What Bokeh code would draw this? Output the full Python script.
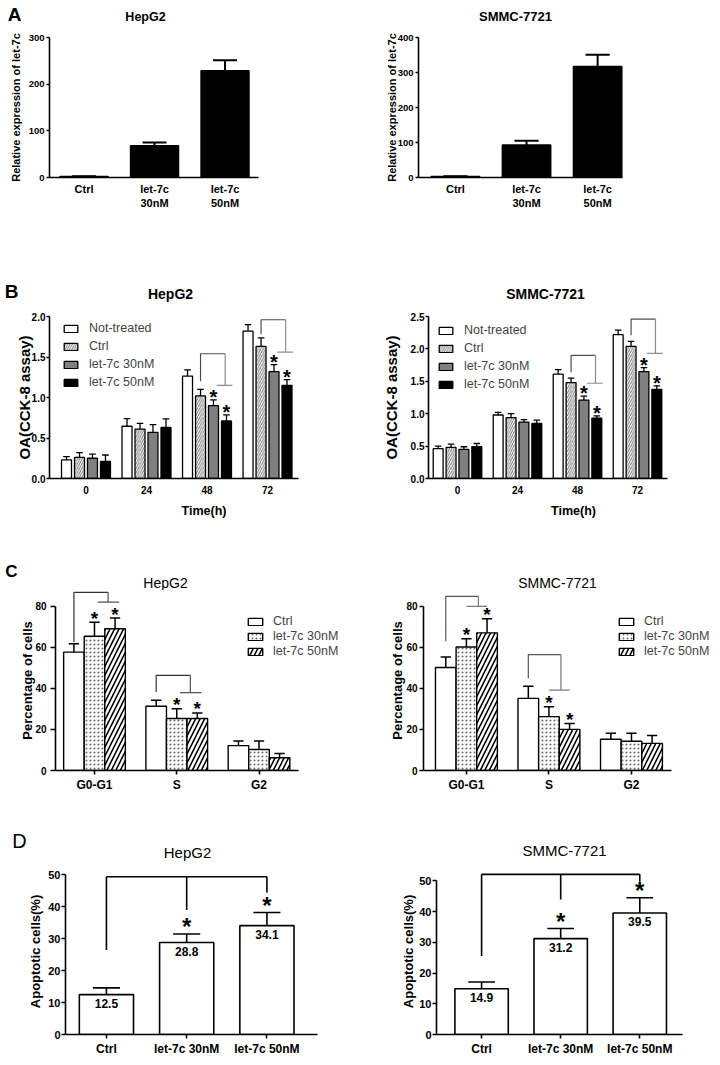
import numpy as np
from bokeh.plotting import figure
from bokeh.models import Range1d, FixedTicker, Label, Legend, LegendItem, CustomJSTickFormatter
from bokeh.layouts import column, row
from bokeh.embed import file_html
from bokeh.resources import INLINE
from bokeh.core.properties import value

FONT = "Liberation Sans"

# ---------------- data ----------------
# Panel A: relative expression of let-7c
a_cats = ["Ctrl", "let-7c\n30nM", "let-7c\n50nM"]
a_hep_mean = [2, 68, 229]
a_hep_err = [0.6, 7, 22]
a_smmc_mean = [3, 93, 317]
a_smmc_err = [0.6, 12, 34]

# Panel B: CCK-8 assay
b_times = ["0", "24", "48", "72"]
b_series = ["Not-treated", "Ctrl", "let-7c 30nM", "let-7c 50nM"]
b_hep_nt = [0.23, 0.645, 1.265, 1.82]
b_hep_ctrl = [0.26, 0.61, 1.02, 1.63]
b_hep_30 = [0.25, 0.57, 0.90, 1.32]
b_hep_50 = [0.21, 0.63, 0.71, 1.15]
b_hep_nt_err = [0.04, 0.095, 0.075, 0.08]
b_hep_ctrl_err = [0.06, 0.07, 0.08, 0.105]
b_hep_30_err = [0.05, 0.095, 0.07, 0.085]
b_hep_50_err = [0.08, 0.105, 0.075, 0.07]
b_smmc_nt = [0.46, 0.98, 1.61, 2.22]
b_smmc_ctrl = [0.48, 0.94, 1.48, 2.04]
b_smmc_30 = [0.45, 0.87, 1.21, 1.65]
b_smmc_50 = [0.49, 0.85, 0.93, 1.375]
b_smmc_nt_err = [0.04, 0.04, 0.07, 0.07]
b_smmc_ctrl_err = [0.05, 0.06, 0.07, 0.075]
b_smmc_30_err = [0.04, 0.04, 0.06, 0.06]
b_smmc_50_err = [0.05, 0.05, 0.035, 0.055]
b_sig = [[0, 0, 0, 0], [0, 0, 0, 0], [0, 0, 1, 1], [0, 0, 1, 1]]
# brackets: (group index, start y, top y, end y)
b_hep_brackets = [(2, 1.20, 1.54, 1.15), (3, 1.78, 1.96, 1.56)]
b_smmc_brackets = [(2, 1.64, 1.90, 1.47), (3, 2.21, 2.46, 1.93)]

# Panel C: cell cycle
c_phases = ["G0-G1", "S", "G2"]
c_series = ["Ctrl", "let-7c 30nM", "let-7c 50nM"]
c_hep_ctrl = [57.6, 31.3, 12.1]
c_hep_30 = [65.3, 25.3, 10.2]
c_hep_50 = [69.0, 25.3, 6.2]
c_hep_ctrl_err = [4.1, 2.9, 2.2]
c_hep_30_err = [6.9, 4.8, 4.1]
c_hep_50_err = [5.2, 2.7, 2.1]
c_smmc_ctrl = [50.1, 35.1, 15.2]
c_smmc_30 = [60.1, 26.2, 14.2]
c_smmc_50 = [67.0, 20.0, 13.2]
c_smmc_ctrl_err = [5.1, 5.9, 2.9]
c_smmc_30_err = [4.0, 4.8, 3.9]
c_smmc_50_err = [6.8, 2.9, 3.8]
c_sig = [[0, 0, 0], [1, 1, 0], [1, 1, 0]]
c_hep_brackets = [(0, 62.5, 86.7, 81.9), (1, 38.2, 46.3, 37.9)]
c_smmc_brackets = [(0, 62.9, 84.7, 79.9), (1, 44.8, 56.4, 39.1)]

# Panel D: apoptosis
d_cats = ["Ctrl", "let-7c 30nM", "let-7c 50nM"]
d_hep_mean = [12.5, 28.8, 34.1]
d_hep_err = [2.1, 2.7, 4.1]
d_smmc_mean = [14.9, 31.2, 39.5]
d_smmc_err = [2.2, 3.3, 5.0]
d_sig = [0, 1, 1]
d_hep_bracket = (49.4, [26.5, 39.0, 44.5])
d_smmc_bracket = (52.1, [25.5, 43.9, 49.7])

# header texts: (text, page x, page y, size, bold)
hdr_a = [("A", 14, 14, 19, True), ("HepG2", 145, 16, 12.5, True), ("SMMC-7721", 515, 16, 13, True)]
hdr_b = [("B", 11, 291, 19, True), ("HepG2", 170, 293, 14, True), ("SMMC-7721", 545, 293, 14, True)]
hdr_c = [("C", 11, 571, 17, True), ("HepG2", 165, 582, 14, False), ("SMMC-7721", 557, 582, 14, False)]
hdr_d = [("D", 19, 840, 20, False), ("HepG2", 187, 852, 15, False), ("SMMC-7721", 564, 850, 15, False)]

# ---------------- layout geometry (page pixels) ----------------
# header strips: (top, height)
H_A, H_B, H_C, H_D = (0, 30), (276, 32), (556, 34), (816, 46)
G = dict(
    a_hep=dict(col=0, top=30, h=246, fl=49, fr=258, ft=37, fb=177, xr=(-0.49, 2.475), yr=(0, 300)),
    a_smmc=dict(col=1, top=30, h=246, fl=418, fr=622, ft=37, fb=177, xr=(-0.52, 2.35), yr=(0, 400)),
    b_hep=dict(col=0, top=308, h=248, fl=49, fr=298, ft=316, fb=478, xr=(-0.603, 3.512), yr=(0, 2.0)),
    b_smmc=dict(col=1, top=308, h=248, fl=428, fr=667, ft=316, fb=478, xr=(-0.483, 3.5), yr=(0, 2.5)),
    c_hep=dict(col=0, top=590, h=226, fl=55, fr=298, ft=590, fb=770, xr=(-0.474, 2.48), yr=(0, 87.6)),
    c_smmc=dict(col=1, top=590, h=226, fl=423, fr=671, ft=590, fb=771, xr=(-0.52, 2.485), yr=(0, 87.6)),
    d_hep=dict(col=0, top=862, h=198, fl=65, fr=317, ft=868, fb=1034, xr=(-0.51, 2.63), yr=(0, 52)),
    d_smmc=dict(col=1, top=862, h=198, fl=436, fr=682, ft=865, fb=1036, xr=(-0.57, 2.54), yr=(0, 54)),
)


def make_header(top_h, texts):
    top, h = top_h
    p = figure(width=720, height=h, x_range=Range1d(0, 720), y_range=Range1d(0, h),
               x_axis_type=None, y_axis_type=None, min_border=0,
               output_backend="svg", toolbar_location=None, tools="", title=None)
    p.outline_line_color = None
    p.xgrid.visible = False
    p.ygrid.visible = False
    for t, px, py, size, bold in texts:
        p.add_layout(Label(x=px, y=top + h - py, text=t, text_font=FONT, text_font_size=f"{size}px",
                           text_font_style="bold" if bold else "normal", text_color="black",
                           text_align="center", text_baseline="middle"))
    return p


def make_fig(g):
    fig_left = 0 if g["col"] == 0 else 360
    xs, xe = g["xr"]
    fr_ext = fig_left + 358
    xe_ext = xs + (fr_ext - g["fl"]) * (xe - xs) / (g["fr"] - g["fl"])
    p = figure(width=360, height=g["h"],
               x_range=Range1d(xs, xe_ext), y_range=Range1d(*g["yr"]),
               min_border_left=g["fl"] - fig_left,
               min_border_right=fig_left + 360 - fr_ext,
               min_border_top=g["ft"] - g["top"],
               min_border_bottom=g["top"] + g["h"] - g["fb"],
               output_backend="svg", toolbar_location=None, tools="", title=None)
    p.outline_line_color = None
    p.xgrid.visible = False
    p.ygrid.visible = False
    p.xaxis.bounds = (xs, xe)
    for ax in (p.xaxis[0], p.yaxis[0]):
        ax.axis_line_width = 1.6
        ax.axis_line_color = "black"
        ax.major_tick_line_width = 1.6
        ax.major_tick_line_color = "black"
        ax.major_tick_in = 0
        ax.minor_tick_line_color = None
        ax.major_label_text_font = FONT
        ax.major_label_text_font_style = "bold"
        ax.major_label_text_color = "black"
        ax.axis_label_text_font = FONT
        ax.axis_label_text_font_style = "bold"
        ax.axis_label_text_color = "black"
    return p


def px_to_units(g):
    return (g["yr"][1] - g["yr"][0]) / (g["fb"] - g["ft"])


def setup_axes(p, yticks, xlabels, ytick_size, xtick_size, ylabel, ylabel_size,
               tick_out, y_standoff, ylabel_standoff, x_tick_out, x_standoff):
    p.yaxis.ticker = FixedTicker(ticks=yticks)
    p.yaxis.bounds = (yticks[0], yticks[-1])
    p.yaxis.major_tick_out = tick_out
    p.yaxis.major_label_standoff = y_standoff
    p.yaxis.major_label_text_font_size = f"{ytick_size}px"
    p.yaxis.axis_label = ylabel
    p.yaxis.axis_label_text_font_size = f"{ylabel_size}px"
    p.yaxis.axis_label_standoff = ylabel_standoff
    p.xaxis.ticker = FixedTicker(ticks=list(range(len(xlabels))))
    p.xaxis.major_label_overrides = {i: lab for i, lab in enumerate(xlabels)}
    p.xaxis.major_label_text_font_size = f"{xtick_size}px"
    p.xaxis.major_tick_out = x_tick_out
    p.xaxis.major_label_standoff = x_standoff


def err_bars(p, x, m, e, cw, lw=1.5):
    x = np.asarray(x, dtype=float)
    top = np.asarray(m, dtype=float) + np.asarray(e, dtype=float)
    p.segment(x0=x, y0=m, x1=x, y1=top, line_color="black", line_width=lw)
    p.segment(x0=x - cw, y0=top, x1=x + cw, y1=top, line_color="black", line_width=lw)
    return top


def stars(p, g, x, y, mask, size, lift_px):
    du = px_to_units(g) * lift_px
    xs = [xi for xi, s in zip(x, mask) if s]
    ys = [yi + du for yi, s in zip(y, mask) if s]
    if xs:
        p.text(x=xs, y=ys, text=["*"] * len(xs), text_font=value(FONT),
               text_font_size=f"{size}px", text_font_style="bold", text_color="black",
               text_align="center", text_baseline="middle")


def bracket(p, xl, xd, xa, xb, y0, ytop, yend, c_left, c_right, lw=1.2):
    p.line(x=[xl, xl, xd], y=[y0, ytop, ytop], line_color=c_left, line_width=lw)
    p.line(x=[xd, xd], y=[ytop, yend], line_color=c_right, line_width=lw)
    p.line(x=[xa, xb], y=[yend, yend], line_color=c_right, line_width=lw)


# ---------------- Panel A ----------------
def panel_a(g, mean, err, yticks, ylabel_standoff):
    p = make_fig(g)
    setup_axes(p, yticks, a_cats, 9.5, 11, "Relative expression of let-7c", 11,
               3, 2, ylabel_standoff, 0, 5)
    x = np.arange(len(a_cats))
    bw = 0.68
    p.vbar(x=x, top=mean, width=bw, bottom=0, fill_color="black", line_color="black", line_width=1.5)
    err_bars(p, x, mean, err, bw / 4, lw=2)
    return p


pa1 = panel_a(G["a_hep"], a_hep_mean, a_hep_err, [0, 100, 200, 300], 4)
pa2 = panel_a(G["a_smmc"], a_smmc_mean, a_smmc_err, [0, 100, 200, 300, 400], -3)

# ---------------- Panel B ----------------
B_STYLES = [
    dict(fill_color="white"),
    dict(fill_color="white", hatch_pattern="/", hatch_color="#7a7a7a", hatch_scale=4.5, hatch_weight=1),
    dict(fill_color="#808080"),
    dict(fill_color="black"),
]


def panel_b(g, means, errs, brackets, yticks, ylabel_standoff, leg_loc):
    p = make_fig(g)
    setup_axes(p, yticks, b_times, 10, 10, "OA(CCK-8 assay)", 15, 3, 1, ylabel_standoff, 0, 7)
    p.yaxis.formatter = CustomJSTickFormatter(code="return tick.toFixed(1);")
    p.xaxis.axis_label = "Time(h)"
    p.xaxis.axis_label_text_font_size = "12.5px"
    p.xaxis.axis_label_standoff = 7
    offs = [-0.322, -0.107, 0.107, 0.322]
    bw = 0.165
    rs = []
    for i in range(4):
        x = np.arange(len(b_times)) + offs[i]
        r = p.vbar(x=x, top=means[i], width=bw, bottom=0, line_color="black", line_width=1.3,
                   **B_STYLES[i])
        rs.append(r)
        top = err_bars(p, x, means[i], errs[i], bw / 3, lw=1.3)
        stars(p, g, x, top, b_sig[i], 20, 3)
    for gi, y0, ytop, yend in brackets:
        bracket(p, gi + offs[1], gi + 0.30, gi + 0.16, gi + 0.42, y0, ytop, yend, "#4d4d4d", "#8c8c8c")
    leg = Legend(items=[LegendItem(label=s, renderers=[r]) for s, r in zip(b_series, rs)],
                 location=leg_loc, orientation="vertical", glyph_width=17, glyph_height=9,
                 label_standoff=10, label_height=14, label_text_font=FONT, label_text_font_size="12.5px",
                 spacing=4, padding=0, margin=0, border_line_color=None, background_fill_alpha=0)
    p.add_layout(leg)
    return p


pb1 = panel_b(G["b_hep"], [b_hep_nt, b_hep_ctrl, b_hep_30, b_hep_50],
              [b_hep_nt_err, b_hep_ctrl_err, b_hep_30_err, b_hep_50_err],
              b_hep_brackets, [0, 0.5, 1.0, 1.5, 2.0], -4, (13, 89))
pb2 = panel_b(G["b_smmc"], [b_smmc_nt, b_smmc_ctrl, b_smmc_30, b_smmc_50],
              [b_smmc_nt_err, b_smmc_ctrl_err, b_smmc_30_err, b_smmc_50_err],
              b_smmc_brackets, [0, 0.5, 1.0, 1.5, 2.0, 2.5], 8, (9, 87))

# ---------------- Panel C ----------------
C_STYLES = [
    dict(fill_color="white"),
    dict(fill_color="white", hatch_pattern=".", hatch_color="#6a6a6a", hatch_scale=4, hatch_weight=1),
    dict(fill_color="white", hatch_pattern="/", hatch_color="black", hatch_scale=9, hatch_weight=1.6),
]


def panel_c(g, means, errs, brackets, tick_out, y_standoff, ylabel_standoff,
            leg_loc, drop, low, c_left, c_right):
    p = make_fig(g)
    setup_axes(p, [0, 20, 40, 60, 80], c_phases, 10, 12, "Percentage of cells", 13,
               tick_out, y_standoff, ylabel_standoff, 4, 3)
    offs = [-0.25, 0.0, 0.25]
    bw = 0.25
    rs = []
    for i in range(3):
        x = np.arange(len(c_phases)) + offs[i]
        r = p.vbar(x=x, top=means[i], width=bw, bottom=0, line_color="black", line_width=1.4,
                   **C_STYLES[i])
        rs.append(r)
        top = err_bars(p, x, means[i], errs[i], bw / 4, lw=1.5)
        stars(p, g, x, top, c_sig[i], 19, 4)
    for gi, y0, ytop, yend in brackets:
        bracket(p, gi + offs[0], gi + drop, gi + low[0], gi + low[1], y0, ytop, yend, c_left, c_right)
    leg = Legend(items=[LegendItem(label=s, renderers=[r]) for s, r in zip(c_series, rs)],
                 location=leg_loc, orientation="vertical", glyph_width=18, glyph_height=9,
                 label_standoff=9, label_height=13, label_text_font=FONT, label_text_font_size="12.5px",
                 spacing=1, padding=0, margin=0, border_line_color=None, background_fill_alpha=0)
    p.add_layout(leg)
    return p


pc1 = panel_c(G["c_hep"], [c_hep_ctrl, c_hep_30, c_hep_50],
              [c_hep_ctrl_err, c_hep_30_err, c_hep_50_err], c_hep_brackets,
              5, 4, -3, (191, 112), 0.165, (0.04, 0.30), "#333333", "#555555")
pc2 = panel_c(G["c_smmc"], [c_smmc_ctrl, c_smmc_30, c_smmc_50],
              [c_smmc_ctrl_err, c_smmc_30_err, c_smmc_50_err], c_smmc_brackets,
              4, 2, -2, (194, 112), 0.145, (0.0, 0.25), "#555555", "#7a7a7a")


# ---------------- Panel D ----------------
def panel_d(g, mean, err, brk, ylabel_standoff):
    p = make_fig(g)
    setup_axes(p, [0, 10, 20, 30, 40, 50], d_cats, 11, 12, "Apoptotic cells(%)", 13,
               4, 1, ylabel_standoff, 4, 3)
    x = np.arange(len(d_cats))
    bw = 0.675
    p.vbar(x=x, top=mean, width=bw, bottom=0, fill_color="white", line_color="black", line_width=1.6)
    top = err_bars(p, x, mean, err, bw / 4, lw=1.6)
    stars(p, g, x, top, d_sig, 24, 7)
    p.text(x=x, y=mean, text=[f"{v:.1f}" for v in mean], text_font=value(FONT), text_font_size="12px",
           text_font_style="bold", text_color="black", text_align="center", text_baseline="top",
           y_offset=4)
    ytop, drops = brk
    p.line(x=[x[0], x[-1]], y=[ytop, ytop], line_color="black", line_width=1.6)
    p.segment(x0=x, y0=[ytop] * len(x), x1=x, y1=drops, line_color="black", line_width=1.6)
    return p


pd1 = panel_d(G["d_hep"], d_hep_mean, d_hep_err, d_hep_bracket, 2)
pd2 = panel_d(G["d_smmc"], d_smmc_mean, d_smmc_err, d_smmc_bracket, 0)

layout = column(
    make_header(H_A, hdr_a), row(pa1, pa2),
    make_header(H_B, hdr_b), row(pb1, pb2),
    make_header(H_C, hdr_c), row(pc1, pc2),
    make_header(H_D, hdr_d), row(pd1, pd2),
)
open("out.html", "w").write(file_html(layout, INLINE))
